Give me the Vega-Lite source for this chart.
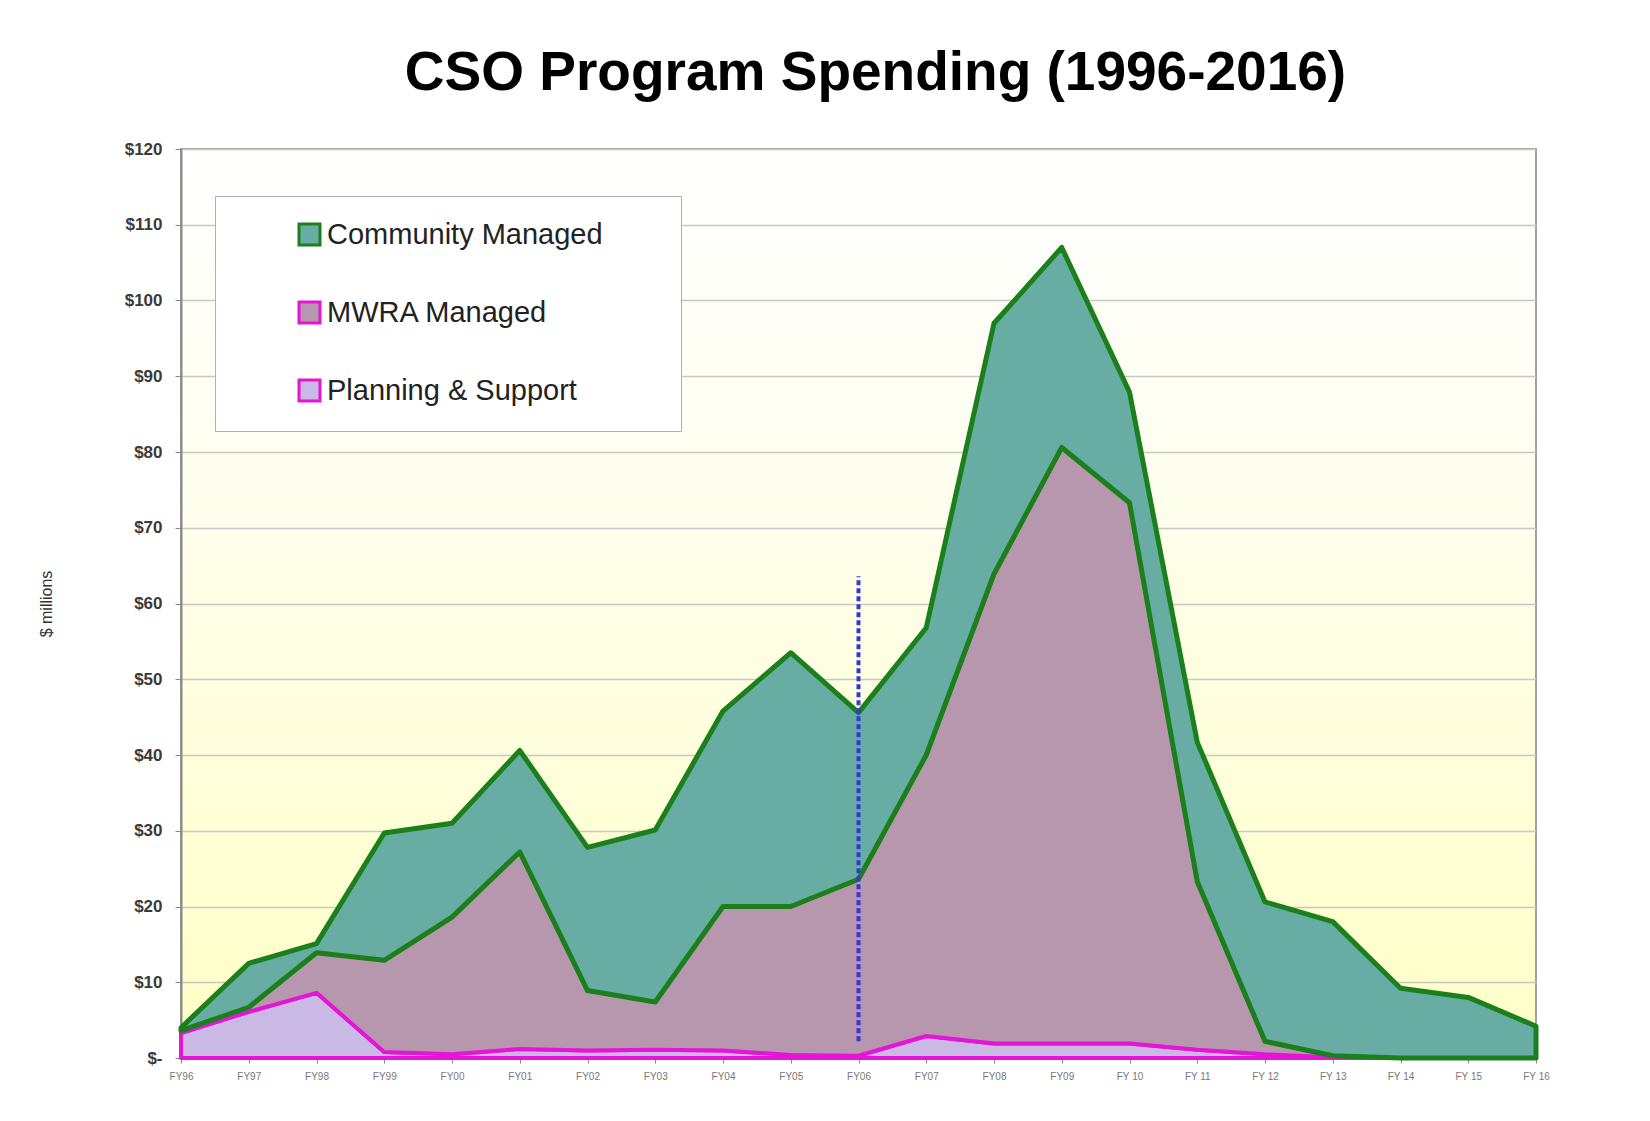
{
  "$schema": "https://vega.github.io/schema/vega-lite/v6.json",
  "autosize": {"type": "none"},
  "width": 1355,
  "height": 909,
  "padding": {"left": 181, "top": 149, "right": 114, "bottom": 63},
  "background": "#ffffff",
  "title": {
    "text": "CSO Program Spending (1996-2016)",
    "font": "Liberation Sans",
    "fontSize": 55,
    "fontWeight": "bold",
    "color": "#000000",
    "anchor": "middle",
    "offset": 38,
    "dx": 17
  },
  "datasets": {
    "spend": [
      {"year": "FY96", "series": "Planning & Support", "value": 3.3},
      {"year": "FY96", "series": "MWRA Managed", "value": 0.3},
      {"year": "FY96", "series": "Community Managed", "value": 0.4},
      {"year": "FY97", "series": "Planning & Support", "value": 6.1},
      {"year": "FY97", "series": "MWRA Managed", "value": 0.6},
      {"year": "FY97", "series": "Community Managed", "value": 5.8},
      {"year": "FY98", "series": "Planning & Support", "value": 8.6},
      {"year": "FY98", "series": "MWRA Managed", "value": 5.3},
      {"year": "FY98", "series": "Community Managed", "value": 1.2},
      {"year": "FY99", "series": "Planning & Support", "value": 0.8},
      {"year": "FY99", "series": "MWRA Managed", "value": 12.1},
      {"year": "FY99", "series": "Community Managed", "value": 16.8},
      {"year": "FY00", "series": "Planning & Support", "value": 0.5},
      {"year": "FY00", "series": "MWRA Managed", "value": 18.1},
      {"year": "FY00", "series": "Community Managed", "value": 12.4},
      {"year": "FY01", "series": "Planning & Support", "value": 1.2},
      {"year": "FY01", "series": "MWRA Managed", "value": 26.0},
      {"year": "FY01", "series": "Community Managed", "value": 13.4},
      {"year": "FY02", "series": "Planning & Support", "value": 1.0},
      {"year": "FY02", "series": "MWRA Managed", "value": 7.9},
      {"year": "FY02", "series": "Community Managed", "value": 18.9},
      {"year": "FY03", "series": "Planning & Support", "value": 1.1},
      {"year": "FY03", "series": "MWRA Managed", "value": 6.3},
      {"year": "FY03", "series": "Community Managed", "value": 22.7},
      {"year": "FY04", "series": "Planning & Support", "value": 1.0},
      {"year": "FY04", "series": "MWRA Managed", "value": 19.0},
      {"year": "FY04", "series": "Community Managed", "value": 25.8},
      {"year": "FY05", "series": "Planning & Support", "value": 0.4},
      {"year": "FY05", "series": "MWRA Managed", "value": 19.6},
      {"year": "FY05", "series": "Community Managed", "value": 33.5},
      {"year": "FY06", "series": "Planning & Support", "value": 0.3},
      {"year": "FY06", "series": "MWRA Managed", "value": 23.3},
      {"year": "FY06", "series": "Community Managed", "value": 22.0},
      {"year": "FY07", "series": "Planning & Support", "value": 2.9},
      {"year": "FY07", "series": "MWRA Managed", "value": 37.1},
      {"year": "FY07", "series": "Community Managed", "value": 16.8},
      {"year": "FY08", "series": "Planning & Support", "value": 1.9},
      {"year": "FY08", "series": "MWRA Managed", "value": 62.0},
      {"year": "FY08", "series": "Community Managed", "value": 33.1},
      {"year": "FY09", "series": "Planning & Support", "value": 1.9},
      {"year": "FY09", "series": "MWRA Managed", "value": 78.7},
      {"year": "FY09", "series": "Community Managed", "value": 26.4},
      {"year": "FY 10", "series": "Planning & Support", "value": 1.9},
      {"year": "FY 10", "series": "MWRA Managed", "value": 71.4},
      {"year": "FY 10", "series": "Community Managed", "value": 14.6},
      {"year": "FY 11", "series": "Planning & Support", "value": 1.1},
      {"year": "FY 11", "series": "MWRA Managed", "value": 22.2},
      {"year": "FY 11", "series": "Community Managed", "value": 18.4},
      {"year": "FY 12", "series": "Planning & Support", "value": 0.5},
      {"year": "FY 12", "series": "MWRA Managed", "value": 1.7},
      {"year": "FY 12", "series": "Community Managed", "value": 18.4},
      {"year": "FY 13", "series": "Planning & Support", "value": 0.1},
      {"year": "FY 13", "series": "MWRA Managed", "value": 0.2},
      {"year": "FY 13", "series": "Community Managed", "value": 17.7},
      {"year": "FY 14", "series": "Planning & Support", "value": 0},
      {"year": "FY 14", "series": "MWRA Managed", "value": 0},
      {"year": "FY 14", "series": "Community Managed", "value": 9.2},
      {"year": "FY 15", "series": "Planning & Support", "value": 0},
      {"year": "FY 15", "series": "MWRA Managed", "value": 0},
      {"year": "FY 15", "series": "Community Managed", "value": 8.0},
      {"year": "FY 16", "series": "Planning & Support", "value": 0},
      {"year": "FY 16", "series": "MWRA Managed", "value": 0},
      {"year": "FY 16", "series": "Community Managed", "value": 4.2}
    ],
    "marker": [
      {"year": "FY06", "low": 2.2, "high": 63.6}
    ]
  },
  "encoding": {
    "x": {
      "field": "year",
      "type": "ordinal",
      "title": null,
      "scale": {
        "type": "point",
        "padding": 0,
        "domain": ["FY96", "FY97", "FY98", "FY99", "FY00", "FY01", "FY02", "FY03", "FY04", "FY05", "FY06", "FY07", "FY08", "FY09", "FY 10", "FY 11", "FY 12", "FY 13", "FY 14", "FY 15", "FY 16"]
      },
      "axis": {
        "labelAngle": 0,
        "labelFontSize": 10,
        "labelColor": "#777777",
        "labelPadding": 8,
        "tickSize": 5,
        "tickColor": "#888888",
        "domainColor": "#888888",
        "domainWidth": 2,
        "grid": false
      }
    }
  },
  "layer": [
    {
      "data": {"name": "spend"},
      "transform": [
        {"stack": "value", "groupby": ["year"], "sort": [{"field": "series", "order": "descending"}], "as": ["v0", "v1"]},
        {"filter": "datum.series === 'Planning & Support'"}
      ],
      "mark": {"type": "area", "strokeWidth": 4, "strokeJoin": "round", "fillOpacity": 1},
      "encoding": {
        "y": {
          "field": "v1",
          "type": "quantitative",
          "title": "$ millions",
          "scale": {"domain": [0, 120], "nice": false},
          "axis": {
            "values": [0, 10, 20, 30, 40, 50, 60, 70, 80, 90, 100, 110, 120],
            "labelExpr": "datum.value === 0 ? '$-' : '$' + datum.value",
            "labelFontSize": 17,
            "labelFontWeight": "bold",
            "labelColor": "#3a3a3a",
            "labelPadding": 13,
            "tickSize": 6,
            "tickColor": "#888888",
            "domainColor": "#888888",
            "domainWidth": 2,
            "gridColor": "#c8c8c0",
            "gridWidth": 1.5,
            "titleFontSize": 16,
            "titleFontWeight": "normal",
            "titleColor": "#333333",
            "titlePadding": 70
          }
        },
        "y2": {"field": "v0"},
        "fill": {"field": "series", "type": "nominal"},
        "stroke": {"field": "series", "type": "nominal"}
      }
    },
    {
      "data": {"name": "spend"},
      "transform": [
        {"stack": "value", "groupby": ["year"], "sort": [{"field": "series", "order": "descending"}], "as": ["v0", "v1"]},
        {"filter": "datum.series === 'MWRA Managed'"}
      ],
      "mark": {"type": "area", "strokeWidth": 4, "strokeJoin": "round", "fillOpacity": 1},
      "encoding": {
        "y": {"field": "v1", "type": "quantitative"},
        "y2": {"field": "v0"},
        "fill": {"field": "series", "type": "nominal"},
        "stroke": {"field": "series", "type": "nominal"}
      }
    },
    {
      "data": {"name": "spend"},
      "transform": [
        {"stack": "value", "groupby": ["year"], "sort": [{"field": "series", "order": "descending"}], "as": ["v0", "v1"]},
        {"filter": "datum.series === 'Community Managed'"}
      ],
      "mark": {"type": "area", "strokeWidth": 5, "strokeJoin": "round", "fillOpacity": 1},
      "encoding": {
        "y": {"field": "v1", "type": "quantitative"},
        "y2": {"field": "v0"},
        "fill": {
          "field": "series",
          "type": "nominal",
          "scale": {
            "domain": ["Community Managed", "MWRA Managed", "Planning & Support"],
            "range": ["#68ada3", "#b797ad", "#c9b9e4"]
          },
          "legend": {
            "title": " ",
            "titleOrient": "right",
            "titlePadding": 54,
            "titleFontSize": 10,
            "orient": "none",
            "legendX": 34,
            "legendY": 47,
            "padding": 24,
            "symbolOffset": 56,
            "fillColor": "#ffffff",
            "strokeColor": "#b0b0b0",
            "symbolType": "square",
            "symbolSize": 441,
            "symbolStrokeWidth": 3,
            "labelFontSize": 29,
            "labelFont": "Liberation Sans",
            "labelColor": "#222222",
            "labelLimit": 500,
            "labelOffset": 3,
            "rowPadding": 45
          }
        },
        "stroke": {
          "field": "series",
          "type": "nominal",
          "scale": {
            "domain": ["Community Managed", "MWRA Managed", "Planning & Support"],
            "range": ["#1b801b", "#e515d8", "#e515d8"]
          }
        }
      }
    },
    {
      "data": {"name": "marker"},
      "mark": {"type": "rule", "color": "#3535d8", "strokeWidth": 4, "strokeDash": [5, 3]},
      "encoding": {
        "y": {"field": "low", "type": "quantitative"},
        "y2": {"field": "high"}
      }
    }
  ],
  "config": {
    "font": "Liberation Sans",
    "view": {
      "stroke": "#a0a0a0",
      "strokeWidth": 2,
      "fill": {
        "gradient": "linear", "x1": 0, "y1": 0, "x2": 0, "y2": 1,
        "stops": [
          {"offset": 0, "color": "#ffffff"},
          {"offset": 0.35, "color": "#fefef0"},
          {"offset": 1, "color": "#ffffc6"}
        ]
      }
    }
  }
}
